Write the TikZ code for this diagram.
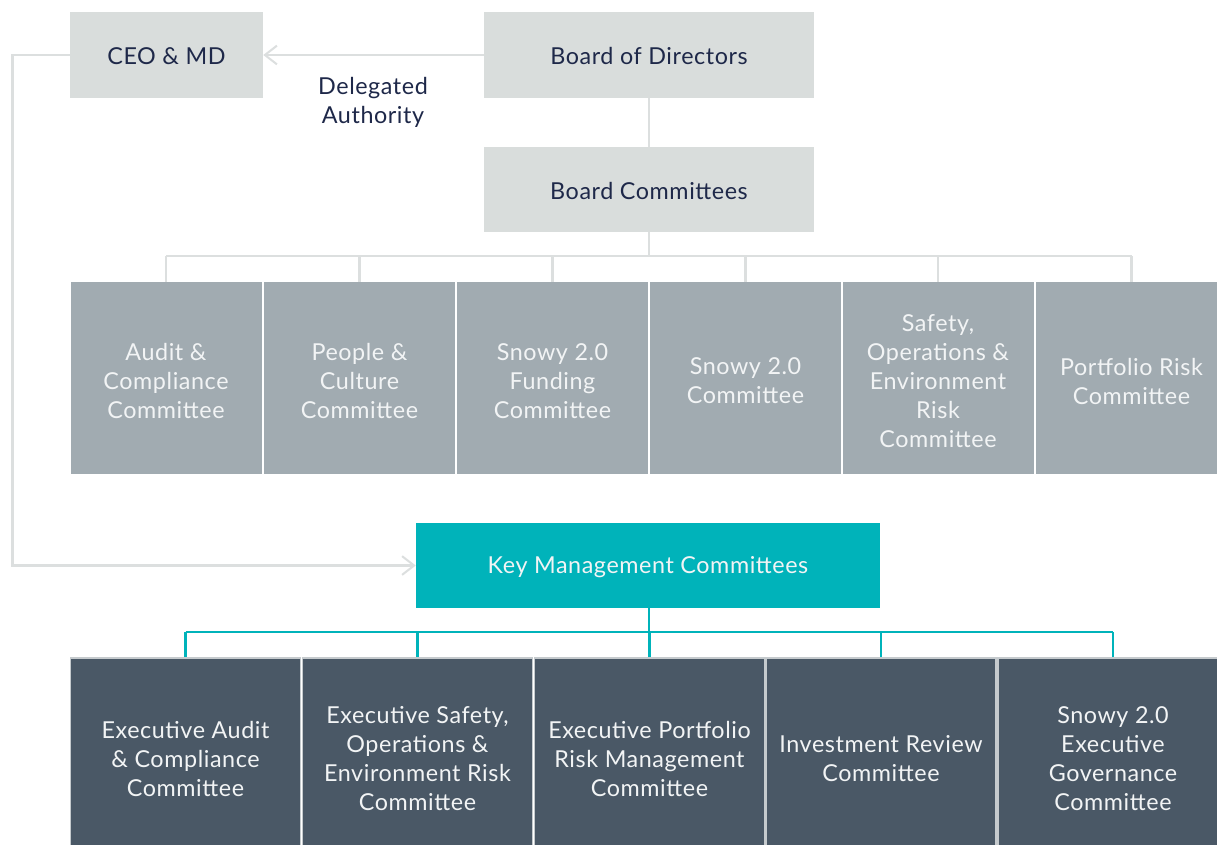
\documentclass[tikz,border=0pt]{standalone}
\usepackage{fontspec}
\setmainfont{Lato}[LetterSpace=2.5]
\usetikzlibrary{arrows.meta}
\definecolor{boxgrey}{HTML}{D9DDDC}
\definecolor{linegrey}{HTML}{DCDFDF}
\definecolor{midgrey}{HTML}{A1ABB1}
\definecolor{navy}{HTML}{1E2849}
\definecolor{teal}{HTML}{00B3BA}
\definecolor{slate}{HTML}{4A5866}
\definecolor{txtwhite}{HTML}{F2F4F5}
\definecolor{edgegrey}{HTML}{C5CACD}
\tikzset{
  sz/.style 2 args={minimum width=#1*0.75pt, minimum height=#2*0.75pt},
  base/.style={inner sep=0pt, align=center, font=\fontsize{17.5}{21.75}\selectfont},
  topbox/.style={base, fill=boxgrey, text=navy},
  combox/.style={base, fill=midgrey, text=txtwhite},
  keybox/.style={base, fill=teal, text=txtwhite},
  exbox/.style={base, fill=slate, text=txtwhite, draw=edgegrey, line width=1.2pt},
  dark/.style={base, text=navy},
  light/.style={base, text=txtwhite},
  gl/.style={draw=linegrey, line width=2pt},
  tl/.style={draw=teal, line width=1.6pt},
  barb/.style={-{Straight Barb[length=9pt, width=14pt, line width=1.5pt]}}
}
\begin{document}
\begin{tikzpicture}[x=0.75pt, y=-0.75pt]
\useasboundingbox[fill=white] (0,0) rectangle (1217,844);
% top row
\node[topbox, sz={193}{86}] (ceo) at (166.5,55) {};
\node[topbox, sz={330}{86}] (bod) at (649,55) {};
\node[topbox, sz={330}{85}] (bc) at (649,189.5) {};
\node[dark] (ceoT) at (166.5,56) {CEO \& MD};
\node[dark] (bodT) at (649,56) {Board of Directors};
\node[dark] (bcT) at (649,190.5) {Board Committees};
\node[dark] (da) at (373,102.5) {Delegated\\Authority};
% board committees
\node[combox, sz={191}{192}] (c1) at (166,378) {};
\node[combox, sz={191}{192}] (c2) at (359.5,378) {};
\node[combox, sz={191}{192}] (c3) at (552.5,378) {};
\node[combox, sz={191}{192}] (c4) at (745.5,378) {};
\node[combox, sz={191}{192}] (c5) at (938,378) {};
\node[combox, sz={191}{192}] (c6) at (1131.5,378) {};
\node[light] (c1T) at (166,381) {Audit \&\\Compliance\\Committee};
\node[light] (c2T) at (359.5,381) {People \&\\Culture\\Committee};
\node[light] (c3T) at (552.5,381) {Snowy 2.0\\Funding\\Committee};
\node[light] (c4T) at (745.5,381) {Snowy 2.0\\Committee};
\node[light] (c5T) at (938,381) {Safety,\\Operations \&\\Environment\\Risk\\Committee};
\node[light] (c6T) at (1131.5,381) {Portfolio Risk\\Committee};
% key management
\node[keybox, sz={464}{85}] (kmc) at (648,565.5) {};
\node[light] (kmcT) at (648,567.5) {Key Management Committees};
% executive committees
\node[exbox, sz={230}{210}] (e1) at (185.5,763) {};
\node[exbox, sz={230}{210}] (e2) at (417.5,763) {};
\node[exbox, sz={230}{210}] (e3) at (649.5,763) {};
\node[exbox, sz={230}{210}] (e4) at (881,763) {};
\node[exbox, sz={230}{210}] (e5) at (1113,763) {};
\node[light] (t1) at (185.5,758.5) {Executive Audit\\\& Compliance\\Committee};
\node[light] (t2) at (417.5,758.5) {Executive Safety,\\Operations \&\\Environment Risk\\Committee};
\node[light] (t3) at (649.5,758.5) {Executive Portfolio\\Risk Management\\Committee};
\node[light] (t4) at (881,758.5) {Investment Review\\Committee};
\node[light] (t5) at (1113,758.5) {Snowy 2.0\\Executive\\Governance\\Committee};
% connectors, top
\draw[gl] (bod) -- (bc);
\coordinate (busA) at (649,256);
\draw[gl] (bc.south) -- (busA);
\draw[gl] (c1.north |- busA) -- (c6.north |- busA);
\foreach \c in {c1,c2,c3,c4,c5,c6} \draw[gl] (\c.north) -- (\c.north |- busA);
\draw[gl, barb] (bod.west) -- (ceo.east);
\draw[gl, barb] (ceo.west) -- ++(-57,0) |- (kmc.west);
% connectors, bottom
\coordinate (busB) at (649,632);
\draw[tl] (kmc.south -| busB) -- (busB);
\draw[tl] (e1.north |- busB) -- (e5.north |- busB);
\foreach \e in {e1,e2,e3,e4,e5} \draw[tl] (\e.north) -- (\e.north |- busB);
\end{tikzpicture}
\end{document}
